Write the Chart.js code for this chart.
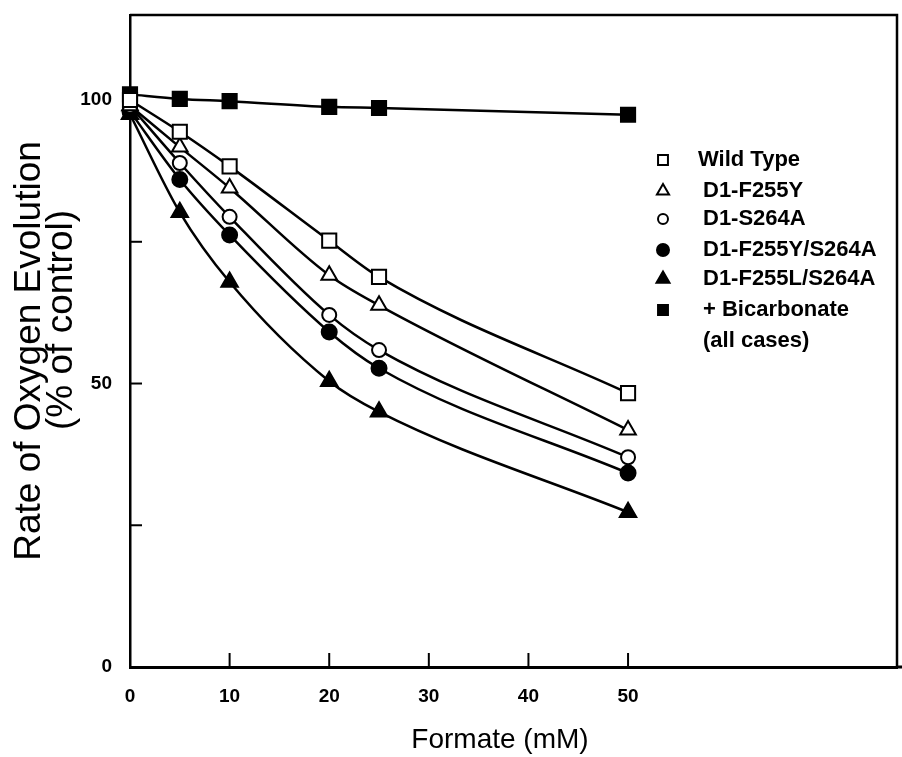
<!DOCTYPE html>
<html>
<head>
<meta charset="utf-8">
<script src="https://cdn.jsdelivr.net/npm/chart.js@4/dist/chart.umd.min.js"></script>
<style>
  html, body { margin: 0; padding: 0; background: #fff; }
  #wrap { position: relative; width: 902px; height: 757px; }
</style>
</head>
<body>
<div id="wrap"><canvas id="chart"></canvas></div>
<script>
// values
var formate = [0, 5, 10, 20, 25, 50];
var wildType = [100, 94.4, 88.3, 75.2, 68.8, 48.3];
var f255y = [99, 91.7, 84.5, 69.1, 63.8, 41.8];
var s264a = [99, 88.9, 79.4, 62.1, 55.9, 37];
var f255yS264a = [98, 86, 76.2, 59.1, 52.7, 34.2];
var f255lS264a = [97.5, 80.2, 67.9, 50.4, 45, 27.3];
var bicarbonate = [101, 100.2, 99.8, 98.8, 98.6, 97.4];

var seriesLabels = ['Wild Type', 'D1-F255Y', 'D1-S264A', 'D1-F255Y/S264A', 'D1-F255L/S264A', '+ Bicarbonate'];
var xTicks = [0, 10, 20, 30, 40, 50];
var yTicks = [0, 25, 50, 75, 100];
var yLabelled = [0, 50, 100];

var FONT = '"Liberation Sans", Arial, sans-serif';

function pts(vals)
{
	return formate.map(function (x, i) { return {x: x, y: vals[i]}; });
}

function series(label, vals, style, r, filled)
{
	return {
		label: label,
		data: pts(vals),
		borderColor: '#000',
		borderWidth: 2.5,
		cubicInterpolationMode: 'monotone',
		pointStyle: style,
		pointRadius: r,
		pointBorderWidth: 2,
		pointBorderColor: '#000',
		pointBackgroundColor: filled ? '#000' : '#fff',
		clip: false,
		fill: false
	};
}

var datasets = [
	series(seriesLabels[0], wildType, 'rect', 10, false),
	series(seriesLabels[1], f255y, 'triangle', 9, false),
	series(seriesLabels[2], s264a, 'circle', 7, false),
	series(seriesLabels[3], f255yS264a, 'circle', 7.5, true),
	series(seriesLabels[4], f255lS264a, 'triangle', 9.5, true),
	series(seriesLabels[5], bicarbonate, 'rect', 10, true)
];

// legend symbols, a bit smaller than the plotted ones
var legendSymbols = [
	{style: 'rect', r: 7, filled: false},
	{style: 'triangle', r: 7, filled: false},
	{style: 'circle', r: 5, filled: false},
	{style: 'circle', r: 6, filled: true},
	{style: 'triangle', r: 7.5, filled: true},
	{style: 'rect', r: 7, filled: true}
];

var framePlugin = {
	id: 'framePlugin',
	beforeDatasetsDraw: function (chart)
	{
		var ctx = chart.ctx, a = chart.chartArea;
		var xs = chart.scales.x, ys = chart.scales.y;
		ctx.save();
		ctx.strokeStyle = '#000';
		// top and right of the box
		ctx.lineWidth = 2.5;
		ctx.beginPath();
		ctx.moveTo(a.left, a.top);
		ctx.lineTo(a.right, a.top);
		ctx.lineTo(a.right, a.bottom);
		ctx.stroke();
		// bottom axis runs to the edge
		ctx.lineWidth = 3;
		ctx.beginPath();
		ctx.moveTo(a.right, a.bottom);
		ctx.lineTo(chart.width, a.bottom);
		ctx.stroke();
		// inward tick marks
		ctx.lineWidth = 2;
		xTicks.forEach(function (v)
		{
			if (v === 0) return;
			var px = xs.getPixelForValue(v);
			ctx.beginPath();
			ctx.moveTo(px, a.bottom);
			ctx.lineTo(px, a.bottom - 14);
			ctx.stroke();
		});
		yTicks.forEach(function (v)
		{
			if (v === 0 || v === 100) return;
			var py = ys.getPixelForValue(v);
			ctx.beginPath();
			ctx.moveTo(a.left, py);
			ctx.lineTo(a.left + 12, py);
			ctx.stroke();
		});
		ctx.restore();
	},
	afterDraw: function (chart)
	{
		var ctx = chart.ctx;
		ctx.save();
		ctx.fillStyle = '#000';

		// y title, two lines
		ctx.save();
		ctx.translate(40, 351);
		ctx.rotate(-Math.PI / 2);
		ctx.font = '37px ' + FONT;
		ctx.textAlign = 'center';
		ctx.textBaseline = 'alphabetic';
		ctx.fillText('Rate of Oxygen Evolution', 0, 0);
		ctx.restore();
		ctx.save();
		ctx.translate(72, 320);
		ctx.rotate(-Math.PI / 2);
		ctx.font = '37px ' + FONT;
		ctx.textAlign = 'center';
		ctx.fillText('(% of control)', 0, 0);
		ctx.restore();

		// x title
		ctx.font = '28px ' + FONT;
		ctx.textAlign = 'center';
		ctx.textBaseline = 'alphabetic';
		ctx.fillText('Formate (mM)', 500, 748);

		// legend
		var rows = [160, 191, 219, 250, 279, 310];
		ctx.font = 'bold 22px ' + FONT;
		ctx.textAlign = 'left';
		ctx.textBaseline = 'middle';
		seriesLabels.forEach(function (lab, i)
		{
			var s = legendSymbols[i];
			ctx.fillStyle = s.filled ? '#000' : '#fff';
			ctx.strokeStyle = '#000';
			ctx.lineWidth = 2;
			Chart.helpers.drawPoint(ctx, {pointStyle: s.style, radius: s.r, rotation: 0, borderWidth: 2}, 663, rows[i]);
			ctx.fillStyle = '#000';
			ctx.fillText(lab, i === 0 ? 698 : 703, rows[i]);
		});
		ctx.fillText('(all cases)', 703, 341);
		ctx.restore();
	}
};

var tickFont = {family: FONT, size: 19, weight: 'bold'};

new Chart(document.getElementById('chart'), {
	type: 'line',
	data: {datasets: datasets},
	plugins: [framePlugin],
	options: {
		responsive: true,
		maintainAspectRatio: false,
		animation: false,
		layout: {autoPadding: false, padding: {left: 0, right: 5, top: 15, bottom: 0}},
		plugins: {legend: {display: false}, tooltip: {enabled: false}},
		scales: {
			x: {
				type: 'linear',
				min: 0,
				max: 77,
				afterBuildTicks: function (scale) { scale.ticks = xTicks.map(function (v) { return {value: v}; }); },
				afterFit: function (scale)
				{
					scale.height = 90;
					scale.paddingLeft = 0;
					scale.paddingRight = 0;
				},
				grid: {display: false, drawTicks: false},
				border: {display: true, color: '#000', width: 3},
				ticks: {color: '#000', font: tickFont, padding: 18, maxRotation: 0}
			},
			y: {
				type: 'linear',
				min: 0,
				max: 115,
				afterBuildTicks: function (scale) { scale.ticks = yTicks.map(function (v) { return {value: v}; }); },
				afterFit: function (scale)
				{
					scale.width = 130;
					scale.paddingTop = 0;
					scale.paddingBottom = 0;
				},
				grid: {display: false, drawTicks: false},
				border: {display: true, color: '#000', width: 2.5},
				ticks: {
					color: '#000',
					font: tickFont,
					padding: 18,
					callback: function (v) { return yLabelled.indexOf(v) >= 0 ? String(v) : ''; }
				}
			}
		}
	}
});
</script>
</body>
</html>
